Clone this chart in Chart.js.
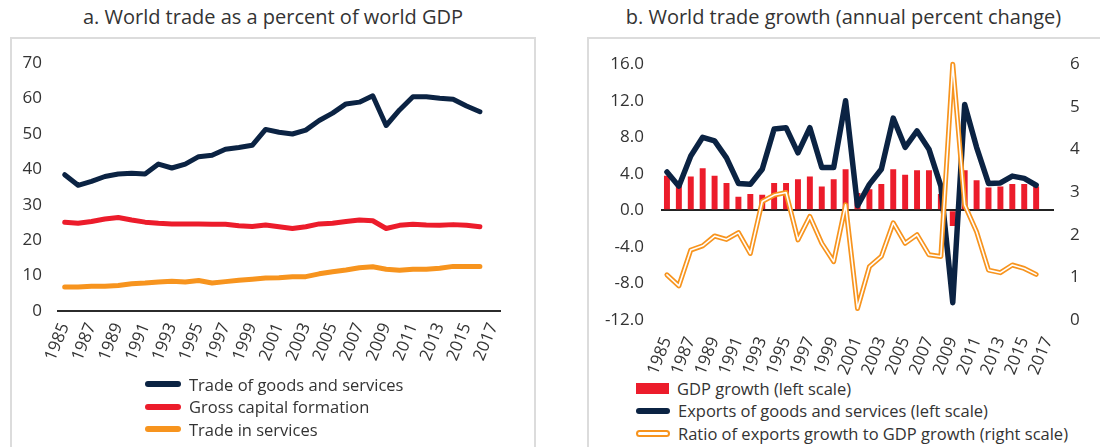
<!DOCTYPE html>
<html>
<head>
<meta charset="utf-8">
<script src="https://cdn.jsdelivr.net/npm/chart.js@4/dist/chart.umd.min.js"></script>
<style>
  body { margin: 0; width: 1100px; height: 447px; background: #fff; position: relative; overflow: hidden;
         font-family: "Open Sans", sans-serif; color: #333; }
  .panel { position: absolute; top: 37px; height: 430px; border: 2px solid #dcdcdc; box-sizing: border-box; }
  .title { position: absolute; top: 3px; font-size: 20px; line-height: 28px; text-align: center; white-space: nowrap; }
  canvas { position: absolute; top: 37px; }
  .legend { position: absolute; font-size: 16.5px; }
  .legend .row { display: flex; align-items: center; height: 22.5px; white-space: nowrap; }
  .legend .sw { display: inline-block; margin-right: 8px; box-sizing: border-box; }
</style>
</head>
<body>
<div class="panel" style="left:10px;width:526px"></div>
<div class="panel" style="left:587px;width:530px"></div>
<div class="title" style="left:10px;width:526px">a. World trade as a percent of world GDP</div>
<div class="title" style="left:587px;width:513px">b. World trade growth (annual percent change)</div>

<canvas id="tradeShare" width="525" height="340" style="left:10px"></canvas>
<canvas id="tradeGrowth" width="513" height="340" style="left:587px"></canvas>

<div class="legend" id="legendA" style="left:145px;top:373px"></div>
<div class="legend" id="legendB" style="left:636px;top:377px"></div>

<script>
// --- datos ---
const years = [];
for (let y = 1985; y <= 2017; y++) years.push(String(y));

// panel a (percent of world GDP)
const tradeGoodsServices = [38.5, 35.5, 36.6, 38.0, 38.7, 38.9, 38.7, 41.5, 40.4, 41.5, 43.6, 44.0, 45.7, 46.2, 46.8, 51.3,
  50.5, 50.0, 51.1, 53.8, 55.9, 58.5, 59.0, 60.8, 52.4, 56.8, 60.5, 60.5, 60.1, 59.8, 57.9, 56.3];
const grossCapital = [25.1, 24.8, 25.3, 26.0, 26.4, 25.7, 25.1, 24.8, 24.6, 24.6, 24.6, 24.5, 24.5, 24.1, 23.9, 24.3,
  23.8, 23.3, 23.8, 24.6, 24.8, 25.3, 25.7, 25.5, 23.3, 24.2, 24.5, 24.3, 24.2, 24.4, 24.2, 23.8];
const tradeServices = [6.8, 6.8, 7.0, 7.0, 7.2, 7.7, 7.9, 8.2, 8.4, 8.2, 8.6, 7.9, 8.3, 8.7, 9.0, 9.3,
  9.4, 9.7, 9.7, 10.5, 11.1, 11.6, 12.2, 12.5, 11.8, 11.5, 11.8, 11.8, 12.1, 12.6, 12.6, 12.6];

// panel b (annual percent change)
const gdpGrowth = [3.8, 3.0, 3.7, 4.6, 3.8, 3.0, 1.5, 1.8, 1.7, 3.0, 3.0, 3.4, 3.7, 2.6, 3.4, 4.5,
  1.9, 2.3, 2.9, 4.5, 3.9, 4.4, 4.4, 1.8, -1.7, 4.4, 3.3, 2.5, 2.6, 2.9, 2.9, 2.6];
const exportsGrowth = [4.2, 2.65, 5.95, 8.0, 7.6, 5.75, 2.95, 2.85, 4.5, 8.9, 9.05, 6.3, 9.05, 4.7, 4.7, 12.0,
  0.5, 2.85, 4.5, 10.1, 6.9, 8.7, 6.7, 2.65, -10.1, 11.6, 6.9, 2.95, 3.0, 3.75, 3.5, 2.75];
const exportsToGdpRatio = [1.06, 0.80, 1.64, 1.74, 1.97, 1.89, 2.05, 1.56, 2.78, 2.93, 2.99, 1.88, 2.43, 1.80, 1.37, 2.70,
  0.27, 1.25, 1.49, 2.28, 1.80, 2.00, 1.53, 1.49, 6.0, 2.70, 2.07, 1.17, 1.11, 1.29, 1.21, 1.07];

const NAVY = '#0b2343';
const RED = '#ec1c2b';
const ORANGE = '#f7941e';
const TEXT = '#333333';
const FONT = { family: '"Open Sans", sans-serif', size: 17 };

// etiqueta cada dos años
function everyOther(value, index) {
  return index % 2 === 0 ? years[index] : '';
}

function lineSet(label, data, color, extra = {}) {
  return Object.assign({
    type: 'line',
    label: label,
    data: data,
    borderColor: color,
    backgroundColor: color,
    borderWidth: 5,
    pointRadius: 0,
    borderJoinStyle: 'round',
    borderCapStyle: 'round',
    tension: 0,
    fill: false
  }, extra);
}

// --- Panel a ---
new Chart(document.getElementById('tradeShare'), {
  type: 'line',
  data: {
    labels: years,
    datasets: [
      lineSet('Trade in services', tradeServices, ORANGE),
      lineSet('Gross capital formation', grossCapital, RED),
      lineSet('Trade of goods and services', tradeGoodsServices, NAVY)
    ]
  },
  options: {
    responsive: false,
    animation: false,
    devicePixelRatio: 1,
    layout: { padding: { top: 22, right: 35, bottom: 0, left: 0 } },
    plugins: { legend: { display: false }, tooltip: { enabled: false } },
    scales: {
      x: {
        offset: true,
        grid: { display: false, drawTicks: false },
        border: { display: true, color: '#2b2b2b', width: 2 },
        ticks: { autoSkip: false, maxRotation: 68, minRotation: 68, padding: 9, color: TEXT, font: FONT, callback: everyOther },
        afterFit: function(scale) { scale.height = 66; }
      },
      y: {
        min: 0, max: 70,
        grid: { display: false, drawTicks: false },
        border: { display: false },
        ticks: { stepSize: 10, padding: 16, color: TEXT, font: FONT },
        afterFit: function(scale) { scale.width = 48; }
      }
    }
  }
});

// --- Panel b ---
new Chart(document.getElementById('tradeGrowth'), {
  type: 'bar',
  data: {
    labels: years,
    datasets: [
      {
        type: 'bar',
        label: 'GDP growth (left scale)',
        data: gdpGrowth,
        backgroundColor: RED,
        barPercentage: 0.5,
        categoryPercentage: 1,
        yAxisID: 'y',
        order: 4
      },
      lineSet('Exports of goods and services (left scale)', exportsGrowth, NAVY, { yAxisID: 'y', order: 3, borderWidth: 5.5 }),
      lineSet('Ratio of exports growth to GDP growth (right scale)', exportsToGdpRatio, ORANGE, { yAxisID: 'y1', order: 2, borderWidth: 5, clip: false }),
      lineSet('ratio inner', exportsToGdpRatio, '#ffffff', { yAxisID: 'y1', order: 1, borderWidth: 1.6, clip: false })
    ]
  },
  options: {
    responsive: false,
    animation: false,
    devicePixelRatio: 1,
    layout: { padding: { top: 27, right: 0, bottom: 0, left: 0 } },
    plugins: { legend: { display: false }, tooltip: { enabled: false } },
    scales: {
      x: {
        offset: true,
        grid: { display: false, drawTicks: false },
        border: { display: false },
        ticks: { autoSkip: false, maxRotation: 68, minRotation: 68, padding: 14, color: TEXT, font: FONT, callback: everyOther },
        afterFit: function(scale) { scale.height = 57; }
      },
      y: {
        position: 'left',
        min: -12, max: 16,
        grid: {
          drawTicks: false,
          lineWidth: 2,
          color: function(ctx) { return ctx.tick && ctx.tick.value === 0 ? '#222222' : 'rgba(0,0,0,0)'; }
        },
        border: { display: false },
        ticks: { stepSize: 4, padding: 17, color: TEXT, font: FONT, callback: v => v.toFixed(1) },
        afterFit: function(scale) { scale.width = 74; }
      },
      y1: {
        position: 'right',
        min: 0, max: 6,
        grid: { display: false, drawTicks: false },
        border: { display: false },
        ticks: { stepSize: 1, padding: 16, color: TEXT, font: FONT },
        afterFit: function(scale) { scale.width = 46; }
      }
    }
  }
});

// --- Leyendas ---
function buildLegend(id, items) {
  const box = document.getElementById(id);
  items.forEach(function(it) {
    const row = document.createElement('div');
    row.className = 'row';
    const sw = document.createElement('span');
    sw.className = 'sw';
    Object.assign(sw.style, it.style);
    const txt = document.createElement('span');
    txt.textContent = it.text;
    row.appendChild(sw);
    row.appendChild(txt);
    box.appendChild(row);
  });
}

buildLegend('legendA', [
  { text: 'Trade of goods and services', style: { width: '36px', height: '6px', borderRadius: '3px', background: NAVY } },
  { text: 'Gross capital formation', style: { width: '36px', height: '6px', borderRadius: '3px', background: RED } },
  { text: 'Trade in services', style: { width: '36px', height: '6px', borderRadius: '3px', background: ORANGE } }
]);

buildLegend('legendB', [
  { text: 'GDP growth (left scale)', style: { width: '33px', height: '11px', background: RED } },
  { text: 'Exports of goods and services (left scale)', style: { width: '34px', height: '6px', borderRadius: '3px', background: NAVY } },
  { text: 'Ratio of exports growth to GDP growth (right scale)', style: { width: '34px', height: '7px', borderRadius: '4px', background: '#fff', border: '2px solid ' + ORANGE } }
]);
</script>
</body>
</html>
